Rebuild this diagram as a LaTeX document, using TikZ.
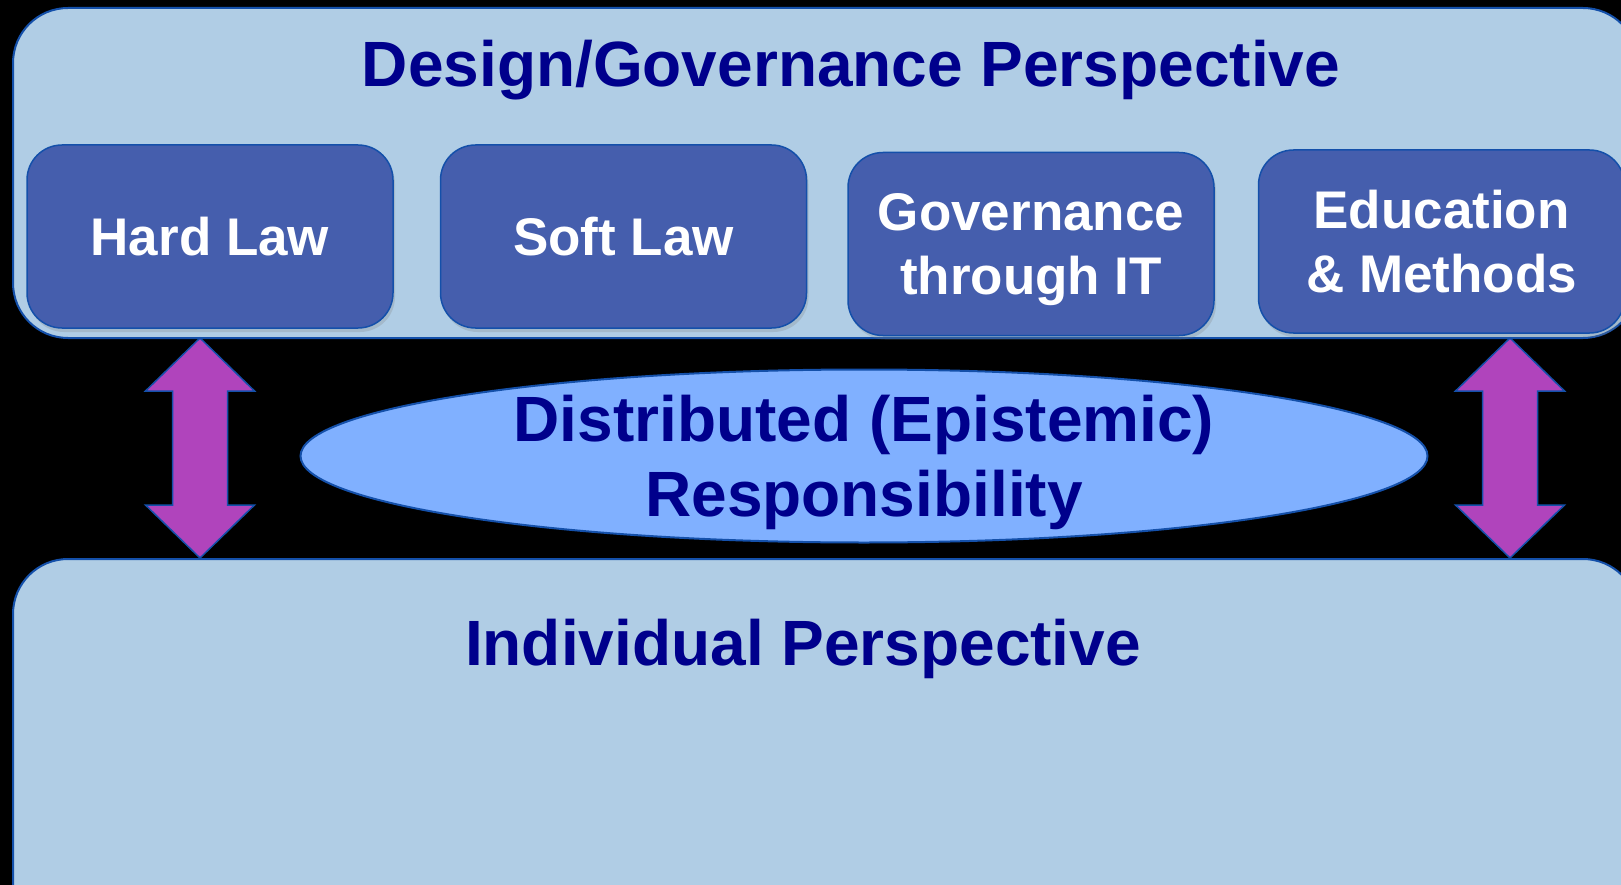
\documentclass[tikz,border=0pt]{standalone}
\usepackage{fontspec}
\setmainfont{Liberation Sans}
\usetikzlibrary{shapes.geometric,shadows}
\definecolor{panelblue}{RGB}{176,205,229}
\definecolor{boxblue}{RGB}{69,94,173}
\definecolor{edgeblue}{RGB}{20,80,170}
\definecolor{navytext}{RGB}{0,0,140}
\definecolor{ovalblue}{RGB}{128,176,255}
\definecolor{arrowpurple}{RGB}{176,68,188}

\begin{document}
\begin{tikzpicture}[x=1pt,y=-1pt,
  panel/.style={draw=edgeblue,fill=panelblue,line width=2pt,rounded corners=55pt,
    outer sep=0pt,inner sep=0pt},
  law box/.style={draw=edgeblue,fill=boxblue,line width=1.5pt,rounded corners=35pt,
    minimum width=366pt,minimum height=183pt,text=white,align=center,text depth=0pt,
    font=\fontsize{53}{64}\selectfont\bfseries,
    drop shadow={opacity=0.25,shadow xshift=2pt,shadow yshift=-4pt}},
  big text/.style={text=navytext,font=\fontsize{64}{75}\selectfont\bfseries,align=center},
  dbl arrow/.style={draw=edgeblue,fill=arrowpurple,line width=1.5pt,line join=miter}]
  \fill[black] (0,0) rectangle (1621,885);
  \useasboundingbox (0,0) rectangle (1621,885);
  \clip (0,0) rectangle (1621,885);
  % the two perspectives
  \node[panel,minimum width=1625pt,minimum height=330pt] (design) at (825.5,173) {};
  \node[panel,minimum width=1625pt,minimum height=400pt] (individual) at (825.5,759) {};
  \node[big text,anchor=base] (designtitle) at (851,87) {Design/Governance Perspective};
  \node[big text,anchor=base] (indivtitle) at (803,665) {Individual Perspective};
  % instruments
  \node[law box] (hardlaw)   at (210,236.5)    {Hard Law};
  \node[law box] (softlaw)   at (623.5,236.5)  {Soft Law};
  \node[law box] (itgov)     at (1031,244)     {Governance\\through IT};
  \node[law box] (education) at (1441.5,241.5) {Education\\\& Methods};
  % middle
  \node[ellipse,draw=edgeblue,fill=ovalblue,line width=2pt,minimum width=1127pt,
    minimum height=173pt,inner sep=0pt,big text,text depth=0pt] (distresp) at (864,456)
    {Distributed (Epistemic)\\Responsibility};
  \foreach \ax in {200,1510}
    \draw[dbl arrow] (design.south -| \ax,0) -- ++(54.5,53) -- ++(-27,0) -- ++(0,114)
      -- ++(27,0) -- ++(-54.5,53) -- ++(-54.5,-53) -- ++(27,0) -- ++(0,-114)
      -- ++(-27,0) -- cycle;
\end{tikzpicture}
\end{document}
